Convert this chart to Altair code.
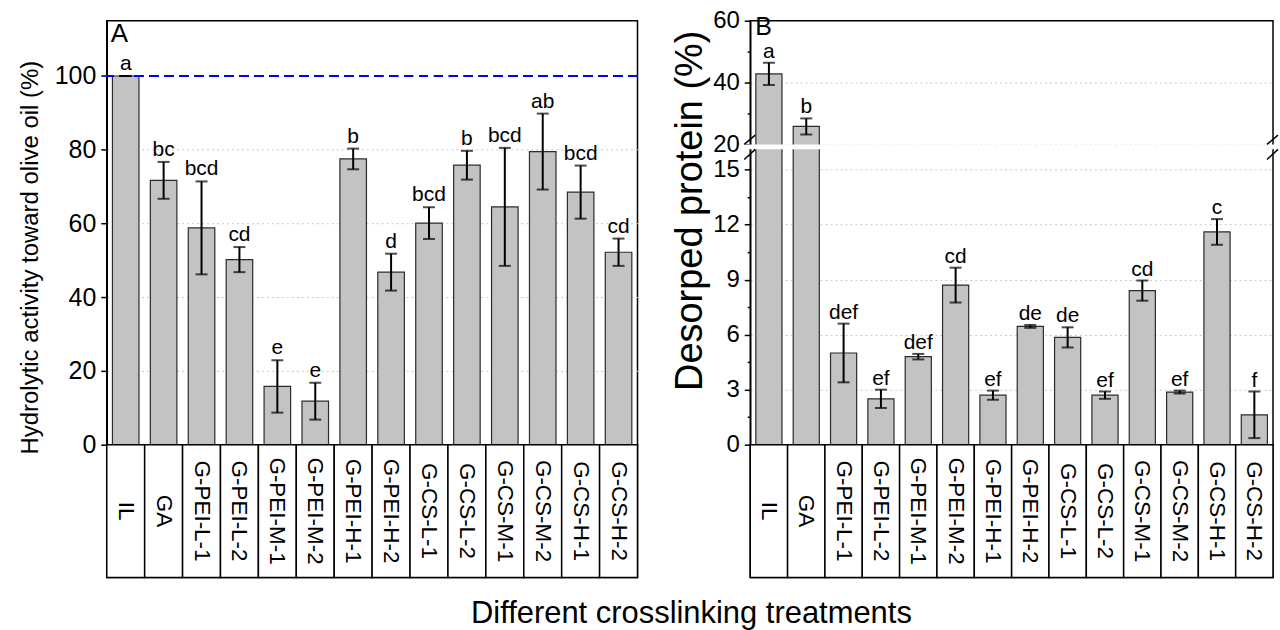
import altair as alt
import pandas as pd

FONT = "Liberation Sans"

categories = ["IL", "GA", "G-PEI-L-1", "G-PEI-L-2", "G-PEI-M-1", "G-PEI-M-2",
              "G-PEI-H-1", "G-PEI-H-2", "G-CS-L-1", "G-CS-L-2", "G-CS-M-1",
              "G-CS-M-2", "G-CS-H-1", "G-CS-H-2"]

activity = [100, 71.7, 58.8, 50.2, 15.8, 11.8, 77.5, 46.8, 60.1, 75.8, 64.5, 79.5, 68.5, 52.2]
activity_err = [0, 5.0, 12.6, 3.4, 7.1, 5.0, 2.8, 5.0, 4.3, 3.9, 16.0, 10.3, 7.2, 3.7]
activity_letters = ["a", "bc", "bcd", "cd", "e", "e", "b", "d", "bcd", "b", "bcd", "ab", "bcd", "cd"]

protein = [42.8, 25.8, 5.0, 2.5, 4.8, 8.7, 2.7, 6.45, 5.85, 2.7, 8.4, 2.87, 11.6, 1.63]
protein_err = [3.6, 2.6, 1.6, 0.5, 0.15, 0.95, 0.25, 0.08, 0.55, 0.2, 0.55, 0.08, 0.7, 1.27]
protein_letters = ["a", "b", "def", "ef", "def", "cd", "ef", "de", "de", "ef", "cd", "ef", "c", "f"]

ticksA = [0, 10, 20, 30, 40, 50, 60, 70, 80, 90, 100, 110]
ticksB_low = [0, 1.5, 3, 4.5, 6, 7.5, 9, 10.5, 12, 13.5, 15]
ticksB_high = [20, 30, 40, 50, 60]

W_A, W_B, H_PLOT, H_BOX = 532, 524, 425, 133
RANGE_B = [H_PLOT, 129, 124, 0]   # pixel positions of 0, 16.1, 20 and 60 on the broken axis

dfA = pd.DataFrame({"cat": categories, "val": activity, "err": activity_err,
                    "letter": activity_letters})
dfA["lo"] = dfA["val"] - dfA["err"]
dfA["hi"] = dfA["val"] + dfA["err"]

dfB = pd.DataFrame({"cat": categories, "pval": protein, "perr": protein_err,
                    "pletter": protein_letters})
dfB["plo"] = dfB["pval"] - dfB["perr"]
dfB["phi"] = dfB["pval"] + dfB["perr"]

box_df = pd.DataFrame({"cat": categories})


def xbar():
    return alt.X("cat:N", sort=categories,
                 scale=alt.Scale(domain=categories, paddingInner=0.3, paddingOuter=0.15),
                 axis=None)


def xbox():
    return alt.X("cat:N", sort=categories,
                 scale=alt.Scale(domain=categories, paddingInner=0, paddingOuter=0),
                 axis=None)


bar_style = dict(fill="#c3c3c3", stroke="#2b2b2b", strokeWidth=1.2)
axis_common = dict(grid=True, gridDash=[2, 3], gridColor="#c8c8c8", gridWidth=1,
                   labelPadding=5, labelOverlap=False)

# ---------------- Panel A ----------------
majorA_test = "datum.value % 20 != 0"
yA_axis = alt.Axis(
    values=ticksA,
    labelExpr="datum.value % 20 == 0 ? datum.label : ''",
    tickSize={"condition": {"test": majorA_test, "value": 3}, "value": 6},
    gridOpacity={"condition": {"test": majorA_test + " || datum.value == 0 || datum.value == 100",
                               "value": 0}, "value": 1},
    title="Hydrolytic activity toward olive oil (%)",
    titleFontSize=24, titlePadding=12, titleY=237, titleLimit=1000,
    labelFontSize=25,
    **axis_common,
)

barsA = alt.Chart(dfA).mark_bar(**bar_style).encode(
    x=xbar(),
    y=alt.Y("val:Q", scale=alt.Scale(domain=[0, 115], nice=False, zero=False), axis=yA_axis),
)
refA = alt.Chart(dfA).mark_rule(color="#0000ff", strokeWidth=2, strokeDash=[9, 6]).encode(
    y=alt.datum(100))
errA = alt.Chart(dfA).mark_rule(color="black", strokeWidth=2).encode(
    x=xbar(), y="lo:Q", y2="hi:Q")
capA_hi = alt.Chart(dfA).mark_tick(color="black", size=12, thickness=2).encode(x=xbar(), y="hi:Q")
capA_lo = alt.Chart(dfA).mark_tick(color="black", size=12, thickness=2).encode(x=xbar(), y="lo:Q")
letA = alt.Chart(dfA).mark_text(font=FONT, fontSize=21, baseline="alphabetic", dy=-6,
                                color="black").encode(x=xbar(), y="hi:Q", text="letter:N")
tagA = alt.Chart(pd.DataFrame({"t": ["A"]})).mark_text(
    font=FONT, fontSize=26, align="left", baseline="top", color="black").encode(
    text="t:N", x=alt.value(4), y=alt.value(0))

plotA = alt.layer(barsA, refA, errA, capA_hi, capA_lo, letA, tagA).properties(
    width=W_A, height=H_PLOT)


def box_chart(width, height):
    boxes = alt.Chart(box_df).mark_rect(fill="white", stroke="black", strokeWidth=1.5).encode(
        x=xbox())
    labels = alt.Chart(box_df).mark_text(font=FONT, fontSize=22.5, angle=90, align="center",
                                         baseline="middle", color="black").encode(
        x=xbox(),
        y=alt.YDatum(0.5, scale=alt.Scale(domain=[0, 1]), axis=None),
        text="cat:N")
    return alt.layer(boxes, labels).properties(width=width, height=height)


boxA = box_chart(W_A, H_BOX)

# ---------------- Panel B ----------------
minorB_test = "datum.value % 3 != 0"
yB_axis = alt.Axis(
    orient="left",
    values=ticksB_low,
    labelExpr="datum.value % 3 == 0 ? datum.label : ''",
    tickSize={"condition": {"test": minorB_test, "value": 3}, "value": 6},
    gridOpacity={"condition": {"test": minorB_test + " || datum.value == 0", "value": 0},
                 "value": 1},
    title="Desorped protein (%)",
    titleFontSize=38, titlePadding=3, titleY=190, titleLimit=1000,
    labelFontSize=24,
    **axis_common,
)

yB_scale = alt.Scale(domain=[0, 16.1, 20, 60], range=RANGE_B, nice=False, zero=False)

barsB = alt.Chart(dfB).mark_bar(**bar_style).encode(
    x=xbar(), y=alt.Y("pval:Q", scale=yB_scale, axis=yB_axis))
errB = alt.Chart(dfB).mark_rule(color="black", strokeWidth=2).encode(
    x=xbar(), y="plo:Q", y2="phi:Q")
capB_hi = alt.Chart(dfB).mark_tick(color="black", size=12, thickness=2).encode(x=xbar(), y="phi:Q")
capB_lo = alt.Chart(dfB).mark_tick(color="black", size=12, thickness=2).encode(x=xbar(), y="plo:Q")
letB = alt.Chart(dfB).mark_text(font=FONT, fontSize=21, baseline="alphabetic", dy=-5,
                                color="black").encode(x=xbar(), y="phi:Q", text="pletter:N")

brk = pd.DataFrame({"k": [0]})
gapB = alt.Chart(brk).mark_rect(fill="white").encode(
    y=alt.datum(16.25), y2=alt.datum(19.85), x=alt.value(-8), x2=alt.value(W_B + 5))
slashes = []
for x0 in (-6, W_B - 6):
    for lo, hi in ((15.55, 16.1), (20.0, 23.0)):
        slashes.append(
            alt.Chart(brk).mark_rule(color="black", strokeWidth=1.5).encode(
                x=alt.value(x0), x2=alt.value(x0 + 11), y=alt.datum(lo), y2=alt.datum(hi)))

tagB = alt.Chart(pd.DataFrame({"t": ["B"]})).mark_text(
    font=FONT, fontSize=25, align="left", baseline="top", color="black").encode(
    text="t:N", x=alt.value(5), y=alt.value(-6))

mainB = alt.layer(barsB, errB, capB_hi, capB_lo, letB, gapB, *slashes, tagB)

# upper segment of the broken axis (20-60), drawn on the same left edge
upperB = alt.Chart(pd.DataFrame({"u": [40]})).mark_point(opacity=0).encode(
    y=alt.Y("u:Q",
            scale=alt.Scale(domain=[20, 60], range=[RANGE_B[2], RANGE_B[3]], nice=False,
                            zero=False),
            axis=alt.Axis(
                orient="left", values=ticksB_high, title=None,
                labelExpr="datum.value % 20 == 0 ? datum.label : ''",
                tickSize={"condition": {"test": "datum.value % 20 != 0", "value": 3},
                          "value": 6},
                gridOpacity={"condition": {"test": "datum.value % 20 != 0 || datum.value == 60",
                                           "value": 0}, "value": 1},
                domain=False, labelFontSize=24,
                **axis_common)))

plotB = alt.layer(mainB, upperB).resolve_scale(y="independent").properties(
    width=W_B, height=H_PLOT)

boxB = box_chart(W_B, H_BOX)

chart = alt.concat(
    plotA, plotB, boxA, boxB, columns=2, spacing={"row": 0, "column": 113}, bounds="flush"
).resolve_scale(
    x="independent", y="independent"
).properties(
    title=alt.TitleParams(text="Different crosslinking treatments", orient="bottom",
                          anchor="middle", fontSize=31, font=FONT, fontWeight="normal",
                          color="black", offset=20, dx=43),
    padding={"left": 17, "top": 7, "right": 0, "bottom": 0},
    background="white",
).configure_view(
    stroke="black", strokeWidth=1.5
).configure_axis(
    labelFont=FONT, titleFont=FONT, titleFontWeight="normal", labelColor="black",
    titleColor="black", domainColor="black", domainWidth=1.5, tickColor="black",
    tickWidth=1.5,
)

chart.save("out.html", embed_options={"renderer": "svg", "actions": False})
